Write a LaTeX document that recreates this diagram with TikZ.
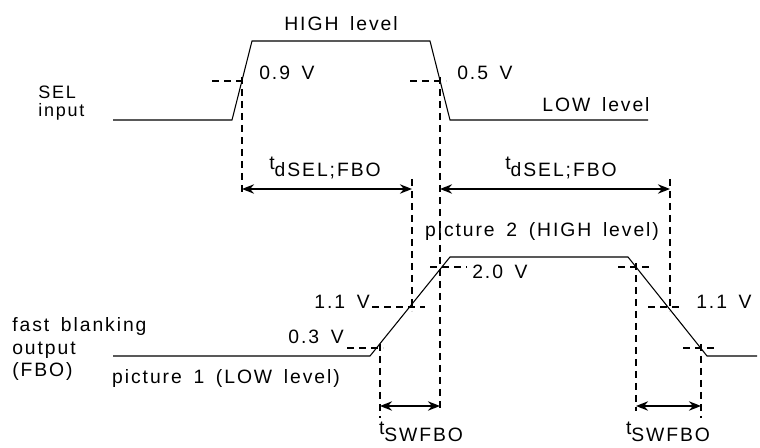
\documentclass[tikz,border=0pt]{standalone}
\usepackage{fontspec}
\setmainfont{Liberation Sans}[LetterSpace=10,WordSpace=1.6]
\usetikzlibrary{arrows.meta}
\begin{document}
\begin{tikzpicture}[x=0.75pt,y=-0.75pt,
  sig/.style={line width=0.8pt},
  dsh/.style={line width=1.1pt, dash pattern=on 5.5pt off 3.5pt},
  dimarrow/.style={line width=1.5pt, {Stealth[length=9pt,width=7pt]}-{Stealth[length=9pt,width=7pt]}},
  lbl/.style={inner sep=0pt, font=\fontsize{14.5}{16}\selectfont},
  small/.style={inner sep=0pt, font=\fontsize{13.5}{14}\selectfont},
]
\useasboundingbox (0,0) rectangle (760,448);
% SEL waveform
\coordinate (s0) at (113,120);
\coordinate (s1) at (232,120);
\coordinate (s2) at (252,41);
\coordinate (s3) at (430,41);
\coordinate (s4) at (450,120);
\coordinate (s5) at (648,120);
\draw[sig] (s0)--(s1)--(s2)--(s3)--(s4)--(s5);
% FBO waveform
\coordinate (f0) at (113,356);
\coordinate (f1) at (370,356);
\coordinate (f2) at (450,257);
\coordinate (f3) at (628,257);
\coordinate (f4) at (707,356);
\coordinate (f5) at (757,356);
\draw[sig] (f0)--(f1)--(f2)--(f3)--(f4)--(f5);
% threshold dashes
\coordinate (a1) at (212,81); \coordinate (a2) at (247,81);
\coordinate (b1) at (410,81); \coordinate (b2) at (446,81);
\coordinate (c1) at (430,267); \coordinate (c2) at (467,267);
\coordinate (c3) at (618,267); \coordinate (c4) at (653,267);
\coordinate (d1) at (372,307); \coordinate (d2) at (425,307);
\coordinate (d3) at (648,307); \coordinate (d4) at (682,307);
\coordinate (e1) at (347,348); \coordinate (e2) at (383,348);
\coordinate (e3) at (683,348); \coordinate (e4) at (717,348);
\draw[dsh] (a1)--(a2);
\draw[dsh] (b1)--(b2);
\draw[dsh] (c1)--(c2);
\draw[dsh] (c3)--(c4);
\draw[dsh] (d1)--(d2);
\draw[dsh] (d3)--(d4);
\draw[dsh] (e1)--(e2);
\draw[dsh] (e3)--(e4);
% vertical dashes
\coordinate (v1t) at (242,77); \coordinate (v1b) at (242,194);
\coordinate (v2t) at (440,77); \coordinate (v2b) at (440,411);
\coordinate (v3t) at (412,179); \coordinate (v3b) at (412,311);
\coordinate (v4t) at (670,179); \coordinate (v4b) at (670,311);
\coordinate (v5t) at (636,263); \coordinate (v5b) at (636,411);
\coordinate (v6t) at (380,344); \coordinate (v6b) at (380,418);
\coordinate (v7t) at (701,344); \coordinate (v7b) at (701,418);
\draw[dsh] (v1t)--(v1b);
\draw[dsh] (v2t)--(v2b);
\draw[dsh] (v3t)--(v3b);
\draw[dsh] (v4t)--(v4b);
\draw[dsh] (v5t)--(v5b);
\draw[dsh] (v6t)--(v6b);
\draw[dsh] (v7t)--(v7b);
% dimension arrows
\coordinate (t1a) at (242,189); \coordinate (t1b) at (412,189);
\coordinate (t2a) at (440,189); \coordinate (t2b) at (670,189);
\coordinate (t3a) at (380,406); \coordinate (t3b) at (440,406);
\coordinate (t4a) at (636,406); \coordinate (t4b) at (701,406);
\draw[dimarrow] (t1a)--(t1b);
\draw[dimarrow] (t2a)--(t2b);
\draw[dimarrow] (t3a)--(t3b);
\draw[dimarrow] (t4a)--(t4b);
% labels
\node[lbl] (hl) at (341,24) {HIGH level};
\node[lbl,anchor=west] (v09) at (259,73) {0.9 V};
\node[lbl,anchor=west] (v05) at (457,73) {0.5 V};
\node[lbl] (ll) at (596,105) {LOW level};
\node[small,anchor=base west] (sel) at (38,99) {SEL};
\node[small,anchor=base west] (inp) at (38,117) {input};
\node[lbl] (td1) at (325,168) {t\raisebox{-5pt}{dSEL;FBO}};
\node[lbl] (td2) at (561,168) {t\raisebox{-5pt}{dSEL;FBO}};
\node[lbl] (p2) at (542,232) {picture 2 (HIGH level)};
\node[lbl,anchor=west] (v20) at (472,272) {2.0 V};
\node[lbl,anchor=east] (v11a) at (370,302) {1.1 V};
\node[lbl,anchor=west] (v11b) at (696,302) {1.1 V};
\node[lbl,anchor=east] (v03) at (344,337) {0.3 V};
\node[lbl,anchor=base west] (fbo1) at (12,332) {fast blanking};
\node[lbl,anchor=base west] (fbo2) at (12,355) {output};
\node[lbl,anchor=base west] (fbo3) at (12,377) {(FBO)};
\node[lbl] (p1) at (226,379) {picture 1 (LOW level)};
\node[lbl] (ts1) at (421,432) {t\raisebox{-5pt}{SWFBO}};
\node[lbl] (ts2) at (668,432) {t\raisebox{-5pt}{SWFBO}};
\end{tikzpicture}
\end{document}
